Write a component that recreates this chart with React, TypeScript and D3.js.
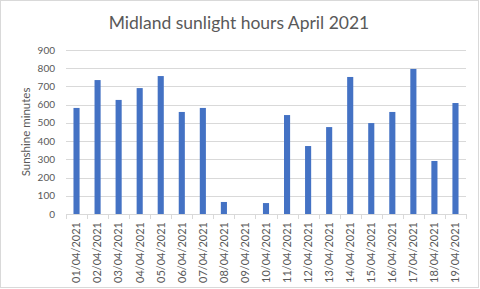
import React from "react";
import * as d3 from "d3";

const categories = [
  "01/04/2021", "02/04/2021", "03/04/2021", "04/04/2021", "05/04/2021",
  "06/04/2021", "07/04/2021", "08/04/2021", "09/04/2021", "10/04/2021",
  "11/04/2021", "12/04/2021", "13/04/2021", "14/04/2021", "15/04/2021",
  "16/04/2021", "17/04/2021", "18/04/2021", "19/04/2021",
];
const sunshineMinutes = [
  582, 735, 626, 691, 757, 560, 582, 66, 0, 60,
  543, 373, 477, 752, 499, 560, 796, 291, 609,
];
const yTicks = [0, 100, 200, 300, 400, 500, 600, 700, 800, 900];
const title = "Midland sunlight hours April 2021";
const yAxisTitle = "Sunshine minutes";

const W = 480;
const H = 289;
const plot = { left: 66, right: 466, top: 50, bottom: 214 };
const font = "Lato, 'Open Sans', sans-serif";
const textColor = "#595959";
const gridColor = "#D9D9D9";

export default function App() {
  const x = d3.scaleBand<string>().domain(categories).range([plot.left, plot.right]).paddingInner(0).paddingOuter(0);
  const y = d3.scaleLinear().domain([0, 900]).range([plot.bottom, plot.top]);
  const bw = x.bandwidth() * 0.29;
  return (
    <svg width={W} height={H} style={{ position: "absolute", left: 0, top: 0, background: "#fff" }}>
      <rect x={0.5} y={0.5} width={W - 2} height={H - 2} fill="#fff" stroke={gridColor} />
      <text x={239} y={29} textAnchor="middle" fontFamily={font} fontSize={17.5} fill={textColor}>{title}</text>
      {yTicks.map((t) => (
        <g key={t}>
          {t > 0 && (
            <line x1={plot.left} x2={plot.right} y1={Math.round(y(t)) + 0.5} y2={Math.round(y(t)) + 0.5} stroke={gridColor} />
          )}
          <text x={55} y={y(t)} dy="0.35em" textAnchor="end" fontFamily={font} fontSize={10} fill={textColor}>{t}</text>
        </g>
      ))}
      <text transform={`translate(30,${(plot.top + plot.bottom) / 2}) rotate(-90)`} textAnchor="middle" fontFamily={font} fontSize={11.5} fill={textColor}>{yAxisTitle}</text>
      {categories.map((c, i) => (
        <rect key={c} x={(x(c) as number) + (x.bandwidth() - bw) / 2} y={y(sunshineMinutes[i])} width={bw} height={y(0) - y(sunshineMinutes[i])} fill="#4472C4" />
      ))}
      <line x1={plot.left} x2={plot.right} y1={plot.bottom + 0.5} y2={plot.bottom + 0.5} stroke={gridColor} />
      {[...categories.map((c) => x(c) as number), plot.right].map((v, i) => (
        <line key={i} x1={Math.round(v) + 0.5} x2={Math.round(v) + 0.5} y1={plot.bottom} y2={plot.bottom + 5} stroke={gridColor} />
      ))}
      {categories.map((c) => (
        <text key={c} transform={`translate(${(x(c) as number) + x.bandwidth() / 2},222) rotate(-90)`} dy="0.35em" textAnchor="end" fontFamily={font} fontSize={11} fill={textColor}>{c}</text>
      ))}
    </svg>
  );
}
